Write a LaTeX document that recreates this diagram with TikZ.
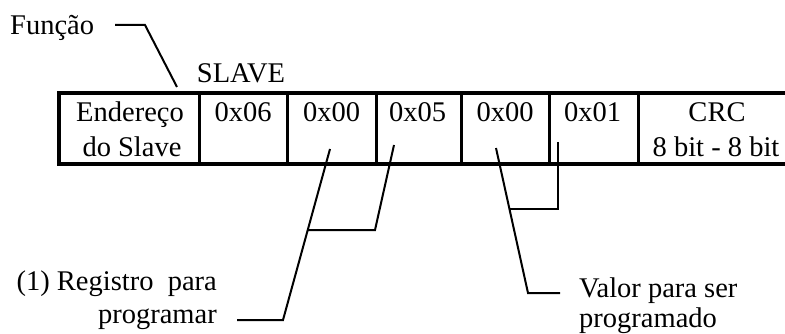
\documentclass[tikz,border=0pt]{standalone}
\usepackage{fontspec}
\setmainfont{Liberation Serif}
\begin{document}
\begin{tikzpicture}[x=1pt,y=-1pt,
  lbl/.style={inner sep=0pt, anchor=base, font=\fontsize{28.5}{34}\selectfont},
  cellbox/.style={draw=none, inner sep=0pt, minimum height=71pt},
  divider/.style={line width=3pt},
  frame/.style={line width=4pt},
  leader/.style={line width=2pt}]
\useasboundingbox (0,0) rectangle (785,334);
% cells
\node[cellbox, minimum width=140pt] (k1) at (129,128.5) {};
\node[cellbox, minimum width=88pt] (k2) at (243,128.5) {};
\node[cellbox, minimum width=89pt] (k3) at (331.5,128.5) {};
\node[cellbox, minimum width=85pt] (k4) at (418.5,128.5) {};
\node[cellbox, minimum width=88pt] (k5) at (505,128.5) {};
\node[cellbox, minimum width=89pt] (k6) at (593.5,128.5) {};
\node[cellbox, minimum width=147pt] (k7) at (711.5,128.5) {};
\foreach \c in {k1,k2,k3,k4,k5,k6}
  \draw[divider] (\c.north east) -- (\c.south east);
\draw[frame] (k7.north east) -- (k1.north west) -- (k1.south west) -- (k7.south east);
% cell texts
\node[lbl] (t1a) at (130,122) {Endereço};
\node[lbl] (t1b) at (132,157) {do Slave};
\node[lbl] (t2) at (243,122) {0x06};
\node[lbl] (t3) at (331.5,122) {0x00};
\node[lbl] (t4) at (417.5,122) {0x05};
\node[lbl] (t5) at (505,122) {0x00};
\node[lbl] (t6) at (592.5,122) {0x01};
\node[lbl] (t7a) at (717,122) {CRC};
\node[lbl] (t7b) at (716,157) {8 bit - 8 bit};
% labels
\node[lbl] (slave) at (241,83) {SLAVE};
\node[lbl, anchor=base west] (fn) at (10,35) {Função};
\node[lbl, anchor=base east] (reg1) at (217,290) {(1) Registro~ para};
\node[lbl, anchor=base east] (reg2) at (217,323) {programar};
\node[lbl, anchor=base west] (val1) at (579,297) {Valor para ser};
\node[lbl, anchor=base west] (val2) at (579,327) {programado};
% leaders
\coordinate (f0) at (115,25);
\coordinate (f1) at (145,25);
\coordinate (f2) at (177,87);
\draw[leader] (f0) -- (f1) -- (f2);
\coordinate (a0) at (330,149);
\coordinate (a1) at (283,320);
\coordinate (a2) at (237,320);
\draw[leader] (a0) -- (a1) -- (a2);
\coordinate (b0) at (394,145);
\coordinate (b1) at (375,230);
\coordinate (b2) at (308,230);
\draw[leader] (b0) -- (b1) -- (b2);
\coordinate (d0) at (496,148);
\coordinate (d1) at (528,293);
\coordinate (d2) at (560,293);
\draw[leader] (d0) -- (d1) -- (d2);
\coordinate (e0) at (558,142);
\coordinate (e1) at (558,209);
\coordinate (e2) at (510,209);
\draw[leader] (e0) -- (e1) -- (e2);
\end{tikzpicture}
\end{document}
